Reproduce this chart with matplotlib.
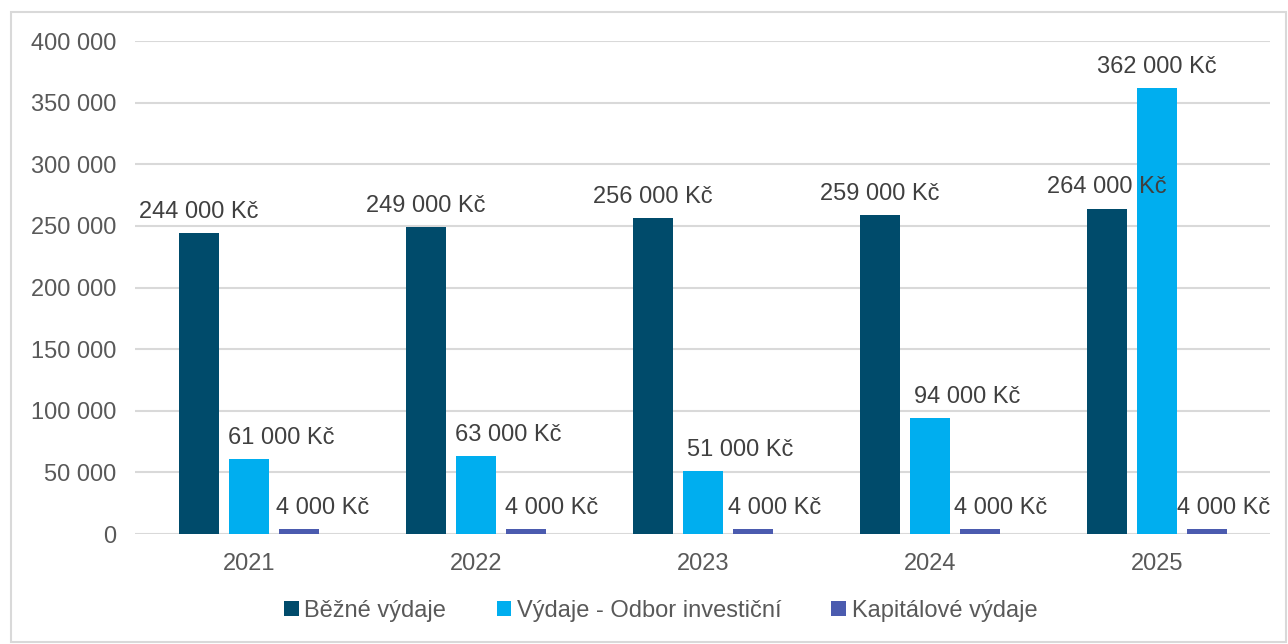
import matplotlib.pyplot as plt
import numpy as np
from matplotlib.patches import Rectangle
from matplotlib.ticker import FuncFormatter

plt.rcParams["font.family"] = ["Liberation Sans", "DejaVu Sans"]

years = ["2021", "2022", "2023", "2024", "2025"]
series_names = ["Běžné výdaje", "Výdaje - Odbor investiční", "Kapitálové výdaje"]
bezne = [244000, 249000, 256000, 259000, 264000]
investicni = [61000, 63000, 51000, 94000, 362000]
kapitalove = [4000, 4000, 4000, 4000, 4000]
colors = ["#004B6B", "#00AEEF", "#4B5BAF"]

# sideways shift of the value labels (points), as they sit in the original
label_shift = [
    [0, 0, 0, 0, 0],
    [23, 23, 26.5, 26.5, 0],
    [17, 18, 15, 14.5, 11.5],
]


def fmt_num(v):
    return f"{v:,.0f}".replace(",", " ")


fig = plt.figure(figsize=(12.88, 6.44), dpi=100)
ax = fig.add_axes([0.1052, 0.1708, 0.8812, 0.7655])

# light border around the chart
fig.patches.append(Rectangle((11 / 1288, 2 / 644), 1275 / 1288, 630 / 644,
                             transform=fig.transFigure, fill=False,
                             edgecolor="#D9D9D9", linewidth=1.5))

x = np.arange(len(years))
width = 0.176
step = 0.222
for i, (vals, name) in enumerate(zip([bezne, investicni, kapitalove], series_names)):
    xs = x + (i - 1) * step
    ax.bar(xs, vals, width, color=colors[i], label=name, zorder=3)
    for xi, v, dx in zip(xs, vals, label_shift[i]):
        ax.annotate(fmt_num(v) + " Kč", (xi, v), xytext=(dx, 11),
                    textcoords="offset points", ha="center", va="baseline",
                    fontsize=17, color="#404040", zorder=4)

ax.set_xlim(-0.5, len(years) - 0.5)
ax.set_ylim(0, 400000)
ax.set_yticks(np.arange(0, 400001, 50000))
ax.yaxis.set_major_formatter(FuncFormatter(lambda v, p: fmt_num(v)))
ax.set_xticks(x)
ax.set_xticklabels(years)
ax.grid(axis="y", color="#D9D9D9", linewidth=1.5, zorder=0)
for s in ["top", "right", "left", "bottom"]:
    ax.spines[s].set_visible(False)
ax.tick_params(axis="both", length=0, labelsize=17, labelcolor="#595959")
ax.tick_params(axis="y", pad=14)
ax.tick_params(axis="x", pad=14)

fig.legend(loc="center", bbox_to_anchor=(0.513, 0.052), ncol=3, frameon=False,
           fontsize=17, labelcolor="#595959", handlelength=0.6, handleheight=0.6,
           handletextpad=0.25, columnspacing=2.13)

fig.savefig("out.png", dpi=100)
